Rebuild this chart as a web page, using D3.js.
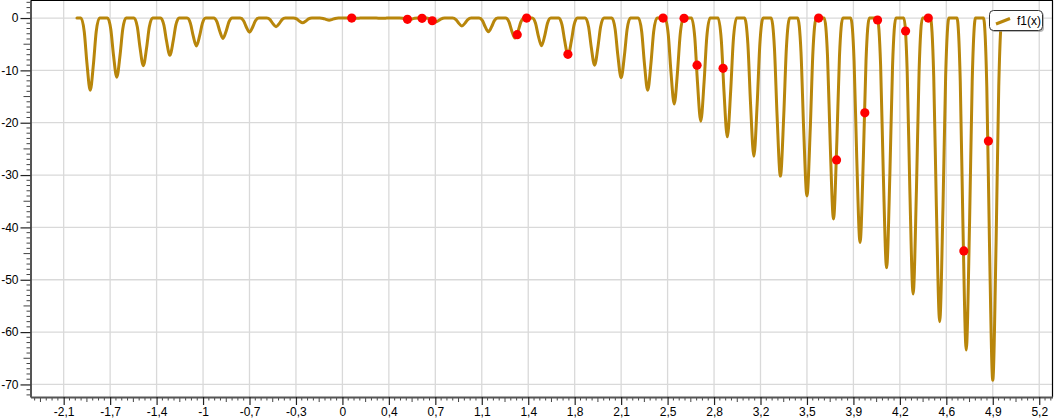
<!DOCTYPE html>
<html><head><meta charset="utf-8">
<script src="https://cdn.jsdelivr.net/npm/d3@7"></script>
<style>
body{margin:0;background:#fff}
svg{display:block}
text{font-family:"Liberation Sans",Arial,sans-serif;font-size:12px;fill:#000}
</style>
</head><body>
<svg id="chart" width="1054" height="420"></svg>
<script>
const seriesName = "f1(x)";

// curve samples: [x, f1(x)]
const f1Curve = [
[-2,0],
[-1.97,0],[-1.945,-2.62],[-1.925,-8.56],[-1.9,-13.8],[-1.875,-8.56],[-1.855,-2.62],[-1.83,0],
[-1.77,0],[-1.745,-2.15],[-1.725,-7.01],[-1.7,-11.3],[-1.675,-7.01],[-1.655,-2.15],[-1.63,0],
[-1.57,0],[-1.545,-1.73],[-1.525,-5.64],[-1.5,-9.1],[-1.475,-5.64],[-1.455,-1.73],[-1.43,0],
[-1.37,0],[-1.345,-1.35],[-1.325,-4.4],[-1.3,-7.1],[-1.275,-4.4],[-1.255,-1.35],[-1.23,0],
[-1.17,0],[-1.145,-1.02],[-1.125,-3.32],[-1.1,-5.35],[-1.075,-3.32],[-1.055,-1.02],[-1.03,0],
[-0.97,0],[-0.945,-0.74],[-0.925,-2.42],[-0.9,-3.9],[-0.875,-2.42],[-0.855,-0.74],[-0.83,0],
[-0.77,0],[-0.745,-0.51],[-0.725,-1.67],[-0.7,-2.7],[-0.675,-1.67],[-0.655,-0.51],[-0.63,0],
[-0.57,0],[-0.545,-0.31],[-0.525,-1.02],[-0.5,-1.65],[-0.475,-1.02],[-0.455,-0.31],[-0.43,0],
[-0.37,0],[-0.345,-0.17],[-0.325,-0.56],[-0.3,-0.9],[-0.275,-0.56],[-0.255,-0.17],[-0.23,0],
[-0.17,0],[-0.145,-0.08],[-0.125,-0.25],[-0.1,-0.4],[-0.075,-0.25],[-0.055,-0.08],[-0.03,0],
[0.03,0],[0.055,-0.01],[0.075,-0.02],[0.1,-0.03],[0.125,-0.02],[0.145,-0.01],[0.17,0],
[0.23,0],[0.255,-0.01],[0.275,-0.02],[0.3,-0.03],[0.325,-0.02],[0.345,-0.01],[0.37,0],
[0.43,0],[0.455,-0.05],[0.475,-0.17],[0.5,-0.28],[0.525,-0.17],[0.545,-0.05],[0.57,0],
[0.63,0],[0.655,-0.15],[0.675,-0.48],[0.7,-0.78],[0.725,-0.48],[0.745,-0.15],[0.77,0],
[0.83,0],[0.855,-0.29],[0.875,-0.93],[0.9,-1.5],[0.925,-0.93],[0.945,-0.29],[0.97,0],
[1.03,0],[1.055,-0.49],[1.075,-1.61],[1.1,-2.6],[1.125,-1.61],[1.145,-0.49],[1.17,0],
[1.23,0],[1.255,-0.72],[1.275,-2.36],[1.3,-3.8],[1.325,-2.36],[1.345,-0.72],[1.37,0],
[1.43,0],[1.455,-1.01],[1.475,-3.29],[1.5,-5.3],[1.525,-3.29],[1.545,-1.01],[1.57,0],
[1.63,0],[1.655,-1.35],[1.675,-4.4],[1.7,-7.1],[1.725,-4.4],[1.745,-1.35],[1.77,0],
[1.83,0],[1.855,-1.71],[1.875,-5.58],[1.9,-9.0],[1.925,-5.58],[1.945,-1.71],[1.97,0],
[2.03,0],[2.055,-2.17],[2.075,-7.07],[2.1,-11.4],[2.125,-7.07],[2.145,-2.17],[2.17,0],
[2.23,0],[2.255,-2.62],[2.275,-8.56],[2.3,-13.8],[2.325,-8.56],[2.345,-2.62],[2.37,0],
[2.43,0],[2.455,-3.12],[2.475,-10.17],[2.5,-16.4],[2.525,-10.17],[2.545,-3.12],[2.57,0],
[2.63,0],[2.655,-3.74],[2.675,-12.21],[2.7,-19.7],[2.725,-12.21],[2.745,-3.74],[2.77,0],
[2.83,0],[2.855,-4.31],[2.875,-14.07],[2.9,-22.7],[2.925,-14.07],[2.945,-4.31],[2.97,0],
[3.03,0],[3.055,-5.02],[3.075,-16.37],[3.1,-26.4],[3.125,-16.37],[3.145,-5.02],[3.17,0],
[3.23,0],[3.255,-5.74],[3.275,-18.72],[3.3,-30.2],[3.325,-18.72],[3.345,-5.74],[3.37,0],
[3.43,0],[3.455,-6.46],[3.475,-21.08],[3.5,-34.0],[3.525,-21.08],[3.545,-6.46],[3.57,0],
[3.63,0],[3.655,-7.3],[3.675,-23.81],[3.7,-38.4],[3.725,-23.81],[3.745,-7.3],[3.77,0],
[3.83,0],[3.855,-8.15],[3.875,-26.6],[3.9,-42.9],[3.925,-26.6],[3.945,-8.15],[3.97,0],
[4.03,0],[4.055,-9.06],[4.075,-29.57],[4.1,-47.7],[4.125,-29.57],[4.145,-9.06],[4.17,0],
[4.23,0],[4.255,-10.01],[4.275,-32.67],[4.3,-52.7],[4.325,-32.67],[4.345,-10.01],[4.37,0],
[4.43,0],[4.455,-11.02],[4.475,-35.96],[4.5,-58.0],[4.525,-35.96],[4.545,-11.02],[4.57,0],
[4.63,0],[4.655,-12.05],[4.675,-39.31],[4.7,-63.4],[4.725,-39.31],[4.745,-12.05],[4.77,0],
[4.83,0],[4.855,-13.15],[4.875,-42.9],[4.9,-69.2],[4.925,-42.9],[4.945,-13.15],[4.97,0],
[5,0]
];

// red markers
const pointsX = [0.07, 0.49, 0.60, 0.677, 1.317, 1.388, 1.699, 2.416, 2.574, 2.672, 2.868, 3.588, 3.723, 3.936, 4.032, 4.243, 4.414, 4.682, 4.867];
const pointsY = [0, -0.25, -0.05, -0.52, -3.17, 0, -6.94, 0, -0.06, -9.0, -9.61, 0, -27.1, -18.1, -0.38, -2.48, 0, -44.5, -23.5];

// axis ticks
const xTickValues = [-2.1,-1.75,-1.4,-1.05,-0.7,-0.35,0,0.35,0.7,1.05,1.4,1.75,2.1,2.45,2.8,3.15,3.5,3.85,4.2,4.55,4.9,5.25];
const xTickLabels = ["-2,1","-1,7","-1,4","-1","-0,7","-0,3","0","0,4","0,7","1,1","1,4","1,8","2,1","2,5","2,8","3,2","3,5","3,9","4,2","4,6","4,9","5,2"];
const yTickValues = [0,-10,-20,-30,-40,-50,-60,-70];
const yTickLabels = ["0","-10","-20","-30","-40","-50","-60","-70"];

const L = 30.5, R = 1052.5, T = 0.5, B = 397;
const svg = d3.select("#chart");
const x = d3.scaleLinear().domain([-2.35, 5.35]).range([L, R]);
const y = d3.scaleLinear().domain([-72.4, 3.35]).range([B, T]);

// grid
const grid = svg.append("g");
grid.selectAll("line.gx").data(xTickValues).join("line").attr("class","gx")
  .attr("x1", d => x(d)).attr("x2", d => x(d)).attr("y1", T).attr("y2", B)
  .attr("stroke", "#d9d9d9").attr("stroke-width", 1.3);
grid.selectAll("line.gy").data(yTickValues).join("line").attr("class","gy")
  .attr("x1", L).attr("x2", R).attr("y1", d => y(d)).attr("y2", d => y(d))
  .attr("stroke", "#d9d9d9").attr("stroke-width", 1.3);

// curve
const line = d3.line().x(d => x(d[0])).y(d => y(d[1])).curve(d3.curveMonotoneX);
svg.append("path").datum(f1Curve).attr("d", line)
  .attr("fill", "none").attr("stroke", "#B8860B").attr("stroke-width", 3)
  .attr("stroke-linejoin", "round").attr("stroke-linecap", "round");

// markers
svg.append("g").selectAll("circle").data(pointsX).join("circle")
  .attr("cx", d => x(d)).attr("cy", (d, i) => y(pointsY[i])).attr("r", 4.6).attr("fill", "#ff0000");

// frame top/right
svg.append("line").attr("x1", L).attr("x2", R + 0.5).attr("y1", T).attr("y2", T).attr("stroke", "#000").attr("stroke-width", 1.2);
svg.append("line").attr("x1", R).attr("x2", R).attr("y1", T).attr("y2", B).attr("stroke", "#000").attr("stroke-width", 1.2);

// minor ticks x
const step = 0.35 / 8;
const minorX = d3.range(-6, 174).map(k => ({v: -2.1 + k * step, k})).filter(o => o.v > -2.35 && o.v < 5.35 && ((o.k % 8) + 8) % 8 !== 0);
svg.append("g").selectAll("line").data(minorX).join("line")
  .attr("x1", d => x(d.v)).attr("x2", d => x(d.v)).attr("y1", B).attr("y2", d => B + ((((d.k % 8) + 8) % 8) === 4 ? 5 : 3.5))
  .attr("stroke", "#444").attr("stroke-width", 1);
// minor ticks y
const minorY = d3.range(-72, 4).filter(v => v % 10 !== 0);
svg.append("g").selectAll("line").data(minorY).join("line")
  .attr("x1", d => L - (d % 5 === 0 ? 7 : 4)).attr("x2", L).attr("y1", d => y(d)).attr("y2", d => y(d))
  .attr("stroke", "#444").attr("stroke-width", 1);

// axes
const xAxis = d3.axisBottom(x).tickValues(xTickValues).tickFormat((d, i) => xTickLabels[i]).tickSize(8).tickSizeOuter(0).tickPadding(2);
const gx = svg.append("g").attr("transform", `translate(0,${B})`).call(xAxis);
const yAxis = d3.axisLeft(y).tickValues(yTickValues).tickFormat((d, i) => yTickLabels[i]).tickSize(10).tickSizeOuter(0).tickPadding(2);
const gy = svg.append("g").attr("transform", `translate(${L},0)`).call(yAxis);
[gx, gy].forEach(g => {
  g.select(".domain").attr("stroke", "#555").attr("stroke-width", 2);
  g.selectAll(".tick line").attr("stroke", "#222").attr("stroke-width", 1.2);
  g.selectAll("text").attr("font-family", "Liberation Sans, Arial, sans-serif").attr("font-size", 12).attr("fill", "#000");
});

// legend
const lg = svg.append("g");
lg.append("rect").attr("x", 991).attr("y", 12).attr("width", 53).attr("height", 20).attr("rx", 4)
  .attr("fill", "#888").attr("opacity", 0.6);
lg.append("rect").attr("x", 989.5).attr("y", 10.5).attr("width", 53).attr("height", 20).attr("rx", 4)
  .attr("fill", "#fff").attr("stroke", "#333").attr("stroke-width", 1);
lg.append("line").attr("x1", 996).attr("y1", 24).attr("x2", 1010).attr("y2", 18.5)
  .attr("stroke", "#B8860B").attr("stroke-width", 3);
lg.append("text").attr("x", 1017).attr("y", 25).text(seriesName);
</script>
</body></html>
